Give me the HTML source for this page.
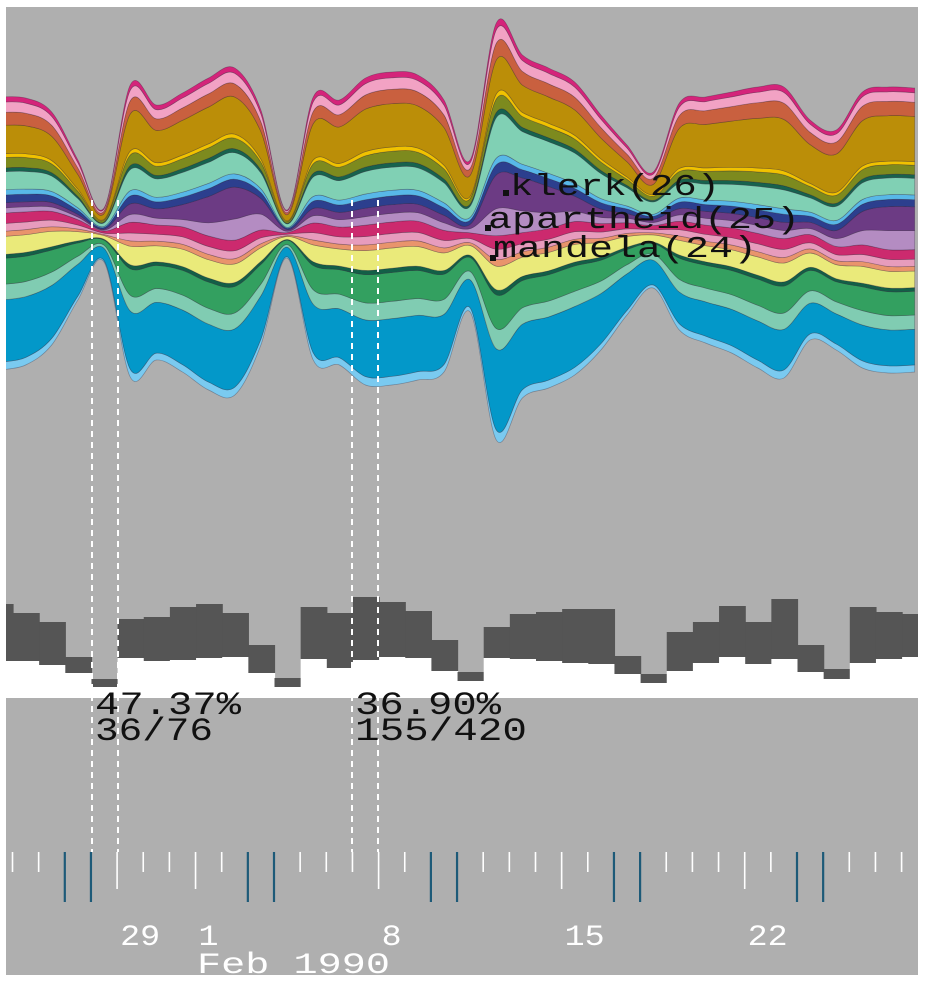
<!DOCTYPE html>
<html><head><meta charset="utf-8"><style>
html,body{margin:0;padding:0;background:#fff;}
svg{display:block;}
text{font-family:"Liberation Mono",monospace;}
</style></head><body>
<svg id="chart" width="927" height="993" viewBox="0 0 927 993" xmlns="http://www.w3.org/2000/svg">
<defs><clipPath id="plotclip"><rect x="6" y="7" width="912" height="968"/></clipPath></defs>
<rect x="6" y="7" width="912" height="968" fill="#afafaf"/>
<g id="streams" clip-path="url(#plotclip)"></g>
<g id="bars" clip-path="url(#plotclip)"></g>
<g id="guides"></g>
<g id="axis"></g>
<g id="labels"></g>
</svg>
<script>
// ---- stream data (k = -1 .. 34, one sample per day column) ----
const streamBottom = [370,365,345,300,262,377,360,372,390,395,345,258,360,365,385,385,380,372,312,440,398,388,375,350,315,288,330,343,353,368,378,340,350,368,373,372];
const streamTotal  = [273,267,233,140,54,292,255,279,312,327,235,48,263,265,307,313,305,272,152,417,343,320,293,235,170,116,227,246,261,281,291,220,220,276,286,284];
const magenta1 = [2,2,2,2,2,2,2,2,2,2,2,2,2,2,2,2,2,2,2,2,2,2,2,2,2,2,2,2,2,2,2,2,2,2,2,2];
const pink1    = [4,4,4,4,4,4,4,4,4,4,4,4,4,4,4,4,4,4,4,4,4,4,4,4,4,4,4,4,4,4,4,4,4,4,4,4];
const rust     = [5,5,5,5,5,5,5,5,5,5,5,5,5,5,5,5,5,5,5,5,5,5,5,5,5,6,6,6,6,6,6,6,6,6,6,6];
const gold     = [11,11,11,11,11,14,14,14,14,14,14,14,15,15,15,15,15,15,15,10,10,10,10,10,10,10,19,19,19,19,19,19,19,19,19,19];
const yellow   = [1.5,1.5,1.5,1.5,1.5,1.5,1.5,1.5,1.5,1.5,1.5,1.5,1.5,1.5,1.5,1.5,1.5,1.5,1.5,1.5,1.5,1.5,1.5,1.5,1.5,1.5,1.5,1.5,1.5,1.5,1.5,1.5,1.5,1.5,1.5,1.5];
const olive    = [4,4,4,4,4,4,4,4,4,4,4,4,4,4,4,4,4,4,4,4,4,4,4,4,4,4,4,4,4,4,4,4,4,4,4,4];
const darkTeal = [1.5,1.5,1.5,1.5,1.5,1.5,1.5,1.5,1.5,1.5,1.5,1.5,1.5,1.5,1.5,1.5,1.5,1.5,1.5,1.5,1.5,1.5,1.5,1.5,1.5,1.5,1.5,1.5,1.5,1.5,1.5,1.5,1.5,1.5,1.5,1.5];
const aqua     = [7,7,7,7,7,8,8,8,8,8,8,8,8,8,8,8,8,8,8,12,12,12,12,12,12,12,7,7,7,7,7,7,7,7,7,7];
const sky      = [2,2,2,2,2,2,2,2,2,2,2,2,2,2,2,2,2,2,2,2,2,2,2,2,2,2,2,2,2,2,2,2,2,2,2,2];
const navy     = [3,3,3,3,3,3,3,3,3,3,3,3,3,3,3,3,3,3,3,3,3,3,3,3,3,3,3,3,3,3,3,3,3,3,3,3];
const purple   = [2,2,2,2,2,4,4,6,10,12,8,4,3,3,3,3,3,3,3,10,12,10,6,4,3,3,3,3,3,3,3,3,4,8,10,10];
const lilac    = [2,2,2,2,2,3,3,3,5,8,8,3,3,3,3,3,3,3,3,8,8,6,4,3,3,3,3,3,3,3,3,3,4,6,8,8];
const magenta2 = [4,4,4,4,4,4,4,4,4,4,4,4,4,4,4,4,4,4,4,4,4,4,4,4,4,4,4,4,4,4,4,4,4,4,4,4];
const pink2    = [3,3,3,3,3,3,3,3,3,3,3,3,3,3,3,3,3,3,3,3,3,3,3,3,3,3,3,3,3,3,3,3,3,3,3,3];
const salmon   = [2,2,2,2,2,2,2,2,2,2,2,2,2,2,2,2,2,2,2,2,2,2,2,2,2,2,2,2,2,2,2,2,2,2,2,2];
const lightYellow = [7,7,7,7,7,7,7,7,7,7,7,7,7,7,7,7,7,7,7,7,7,7,7,7,7,7,7,7,7,7,7,7,7,7,7,7];
const darkGreen = [1.5,1.5,1.5,1.5,1.5,1.5,1.5,1.5,1.5,1.5,1.5,1.5,1.5,1.5,1.5,1.5,1.5,1.5,1.5,1.5,1.5,1.5,1.5,1.5,1.5,1.5,1.5,1.5,1.5,1.5,1.5,1.5,1.5,1.5,1.5,1.5];
const green    = [10,10,10,10,10,10,10,10,10,10,10,10,10,10,10,10,10,10,10,10,10,10,10,10,10,10,10,10,10,10,10,10,10,10,10,10];
const lightTeal = [6,6,6,6,6,6,6,6,6,6,6,6,6,6,6,6,6,6,6,6,6,6,6,6,6,6,6,6,6,6,6,6,6,6,6,6];
const blue     = [24,24,24,24,24,22,22,22,22,22,22,22,20,20,20,20,20,20,20,24,24,24,24,24,24,24,15,15,15,15,15,15,15,15,15,15];
const lightBlue = [3,3,3,3,3,3,3,3,3,3,3,3,3,3,3,3,3,3,3,3,3,3,3,3,3,3,3,3,3,3,3,3,3,3,3,3];
// ---- bar data (per day column, pixels above the white baseline) ----
const barHigh = [94,85,76,41,19,79,81,91,94,85,53,20,91,85,101,96,87,58,26,71,84,86,89,89,42,24,66,76,92,76,99,53,29,91,86,84];
const barLow  = [37,37,33,25,11,40,37,38,40,41,25,11,39,30,38,41,40,27,17,40,39,37,35,34,24,15,27,35,41,34,39,26,19,35,39,41];
// ---- axis data ----
const tickKinds = ["s","s","b","b","L","s","s","L","s","b","b","s","s","s","L","s","b","b","s","s","s","L","s","b","b","s","s","s","L","s","b","b","s","s","s"];
const dayLabels = ["","","","","29","","","1","","","","","","","8","","","","","","","15","","","","","","","22","","","","","",""];

const NS = "http://www.w3.org/2000/svg";
const DX = 26.15, X0 = 12.5;
function xCenter(k){ return X0 + DX*(k+0.5); }
function xTick(i){ return X0 + DX*i; }
function yBar(v){ return 698 - v; }

const layers = [
 [magenta1,"#d4247a","magenta-top"],[pink1,"#f2a2c4","pink-top"],[rust,"#c9603f","rust"],
 [gold,"#bb8e08","gold"],[yellow,"#f0c200","yellow"],[olive,"#7d8a1e","olive"],
 [darkTeal,"#17624e","dark-teal"],[aqua,"#80d0b4","aqua"],[sky,"#58b8e8","sky-blue"],
 [navy,"#2c3f8e","navy"],[purple,"#6c3b84","purple"],[lilac,"#b48cc2","lilac"],
 [magenta2,"#cc2a6e","magenta-mid"],[pink2,"#e79cbd","pink-mid"],[salmon,"#e9946c","salmon"],
 [lightYellow,"#eaea7a","light-yellow"],[darkGreen,"#135f47","dark-green"],[green,"#33a060","green"],
 [lightTeal,"#80ccb2","light-teal"],[blue,"#0398c9","blue"],[lightBlue,"#7acaf0","light-blue"]
];
const N = streamBottom.length;
function curve(pts){
  let d = "";
  for (let i=0;i<pts.length-1;i++){
    const p0=pts[Math.max(i-1,0)],p1=pts[i],p2=pts[i+1],p3=pts[Math.min(i+2,pts.length-1)];
    const c1x=p1[0]+(p2[0]-p0[0])/6,c1y=p1[1]+(p2[1]-p0[1])/6;
    const c2x=p2[0]-(p3[0]-p1[0])/6,c2y=p2[1]-(p3[1]-p1[1])/6;
    d+=" C"+c1x.toFixed(1)+","+c1y.toFixed(1)+" "+c2x.toFixed(1)+","+c2y.toFixed(1)+" "+p2[0].toFixed(1)+","+p2[1].toFixed(1);
  }
  return d;
}
// cumulative from bottom
const sums = [];
for (let k=0;k<N;k++){ let s=0; layers.forEach(l=>{s+=l[0][k];}); sums.push(s); }
const streamG = document.getElementById("streams");
let lower = [];
for (let k=0;k<N;k++) lower.push(streamBottom[k]);
for (let li=layers.length-1; li>=0; li--){
  const L = layers[li];
  const upper = [];
  for (let k=0;k<N;k++) upper.push(lower[k] - streamTotal[k]*L[0][k]/sums[k]);
  const up = upper.map((y,k)=>[xCenter(k-1),y]);
  const lo = lower.map((y,k)=>[xCenter(k-1),y]).reverse();
  let d = "M"+up[0][0]+","+up[0][1]+curve(up)+" L"+lo[0][0]+","+lo[0][1]+curve(lo)+" Z";
  const p = document.createElementNS(NS,"path");
  p.setAttribute("d",d);
  p.setAttribute("fill",L[1]);
  p.setAttribute("stroke","rgba(40,30,50,0.35)");
  p.setAttribute("stroke-width","0.7");
  
  
  streamG.appendChild(p);
  lower = upper;
}
// bars
const barG = document.getElementById("bars");
for (let k=0;k<barHigh.length;k++){
  const x = X0 + DX*(k-1) + 0.5;
  const w = DX;
  const white = document.createElementNS(NS,"rect");
  white.setAttribute("x",x); white.setAttribute("width",w+0.6);
  white.setAttribute("y",yBar(barLow[k])); white.setAttribute("height",698-yBar(barLow[k]));
  white.setAttribute("fill","#ffffff");
  
  
  barG.appendChild(white);
  const r = document.createElementNS(NS,"rect");
  r.setAttribute("x",x); r.setAttribute("width",w+0.6);
  r.setAttribute("y",yBar(barHigh[k])); r.setAttribute("height",barHigh[k]-barLow[k]);
  r.setAttribute("fill","#555555");
  
  
  barG.appendChild(r);
}
// ticks
const axisG = document.getElementById("axis");
for (let i=0;i<tickKinds.length;i++){
  const t = document.createElementNS(NS,"line");
  const x = xTick(i);
  const kind = tickKinds[i];
  t.setAttribute("x1",x); t.setAttribute("x2",x);
  t.setAttribute("y1",852);
  t.setAttribute("y2", kind==="b"?902:(kind==="L"?889:872));
  t.setAttribute("stroke", kind==="b"?"#1d5a78":"#ffffff");
  t.setAttribute("stroke-width", kind==="b"?2.2:1.6);
  
  
  axisG.appendChild(t);
  if (dayLabels[i]){
    const tx = document.createElementNS(NS,"text");
    tx.setAttribute("x",x+3); tx.setAttribute("y",945);
    tx.setAttribute("fill","#ffffff"); tx.setAttribute("font-size","30");
    tx.setAttribute("textLength", dayLabels[i].length*20);
    tx.setAttribute("lengthAdjust","spacingAndGlyphs");
    tx.textContent = dayLabels[i];
    
    
    axisG.appendChild(tx);
  }
}
</script>
<svg width="0" height="0" style="position:absolute"></svg>
<script>
(function(){
  const NS="http://www.w3.org/2000/svg";
  const svg=document.getElementById("chart");
  const g=document.getElementById("guides");
  [92,118,352,378].forEach(function(x){
    const l=document.createElementNS(NS,"line");
    l.setAttribute("x1",x);l.setAttribute("x2",x);l.setAttribute("y1",200);l.setAttribute("y2",852);
    l.setAttribute("stroke","#ffffff");l.setAttribute("stroke-width","2");l.setAttribute("stroke-dasharray","6 5");
    
    
    g.appendChild(l);
  });
  const lab=document.getElementById("labels");
  function txt(s,x,y,w,fill,size,name){
    const t=document.createElementNS(NS,"text");
    t.setAttribute("x",x);t.setAttribute("y",y);t.setAttribute("fill",fill);t.setAttribute("font-size",size);
    t.setAttribute("textLength",w);t.setAttribute("lengthAdjust","spacingAndGlyphs");
    t.textContent=s;
    
    
    lab.appendChild(t);
  }
  txt("klerk(26)",510,195,210,"#111","31","label-klerk");
  txt("apartheid(25)",488,228,312,"#111","31","label-apartheid");
  txt("mandela(24)",493,257,264,"#111","31","label-mandela");
  [[503,190],[485,225],[490,255]].forEach(function(p){
    const r=document.createElementNS(NS,"rect");
    r.setAttribute("x",p[0]);r.setAttribute("y",p[1]);r.setAttribute("width",6);r.setAttribute("height",6);r.setAttribute("fill","#111");
    
    
    lab.appendChild(r);
  });
  txt("47.37%",95,714,146,"#111","32","selection-percent-1");
  txt("36/76",95,740,118,"#111","32","selection-count-1");
  txt("36.90%",355,714,146,"#111","32","selection-percent-2");
  txt("155/420",355,740,172,"#111","32","selection-count-2");
  txt("Feb 1990",197,973,193,"#ffffff","30","month-label");
})();
</script>
</body></html>
